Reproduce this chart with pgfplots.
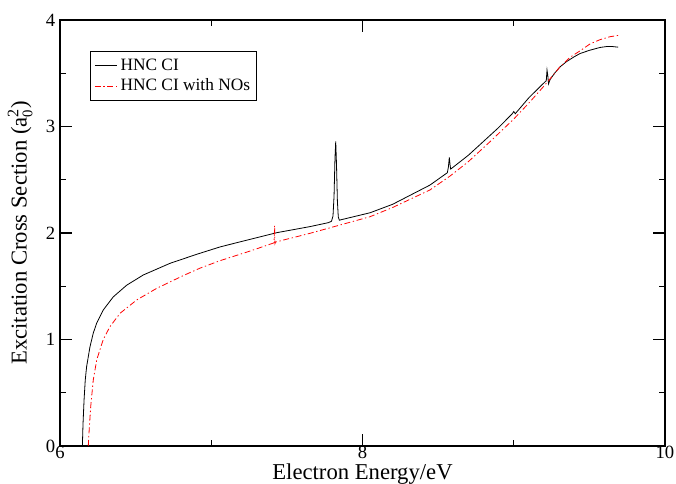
\documentclass[border=0pt]{standalone}
\usepackage{fontspec}
\setmainfont{Liberation Serif}
\usepackage{pgfplots}
\pgfplotsset{compat=1.18}
\begin{document}
\begin{tikzpicture}
\begin{axis}[
  scale only axis, width=453.75pt, height=319.5pt,
  xmin=6, xmax=10, ymin=0, ymax=4,
  xtick={6,8,10}, ytick={0,1,2,3,4},
  minor xtick={7,9}, minor ytick={0.5,1.5,2.5,3.5},
  tick align=inside, major tick length=9pt, minor tick length=4.5pt,
  axis line style={line width=1pt},
  every tick/.style={black, line width=0.8pt},
  tick label style={font=\fontsize{14}{16}\selectfont},
  xticklabel style={inner sep=0.5pt, yshift=0.5pt},
  /pgf/number format/assume math mode=true,
  xlabel={Electron Energy/eV},
  ylabel={Excitation Cross Section (a$_{\hbox{\fontsize{11}{11}\selectfont 0}}^{\hbox{\fontsize{12}{12}\selectfont 2}}$)},
  label style={font=\fontsize{17}{19}\selectfont},
  xlabel style={at={(axis description cs:0.5,-0.066)}, anchor=center, inner sep=0pt},
  ylabel style={at={(axis description cs:-0.066,0.5)}, anchor=center},
  legend style={at={(axis description cs:0.0496,0.927)}, anchor=north west,
    draw=black, line width=0.6pt, font=\fontsize{13}{15}\selectfont,
    inner xsep=3pt, inner ysep=3.5pt, row sep=1pt},
  legend cell align=left,
  legend image code/.code={\draw[#1] (0pt,0pt) -- (17pt,0pt);},
]
\addplot[black, line width=0.6pt] coordinates {
(6.148,0) (6.152,0.2) (6.159,0.43) (6.167,0.62) (6.176,0.745) (6.198,0.93)
(6.22,1.06) (6.243,1.155) (6.286,1.277) (6.352,1.40) (6.441,1.51) (6.551,1.606)
(6.727,1.715) (6.904,1.80) (7.06,1.87) (7.256,1.94) (7.433,2.003) (7.653,2.06)
(7.774,2.097) (7.795,2.11) (7.805,2.16) (7.812,2.35) (7.818,2.70) (7.823,2.86)
(7.828,2.65) (7.834,2.30) (7.840,2.15) (7.847,2.12) (7.86,2.125) (8.05,2.19)
(8.2,2.27) (8.446,2.45) (8.561,2.566) (8.568,2.62) (8.574,2.71) (8.579,2.64)
(8.583,2.60) (8.7,2.73) (8.81,2.873) (8.9,2.99) (8.99,3.12) (9.0,3.14)
(9.01,3.12) (9.1,3.27) (9.2,3.41) (9.215,3.43) (9.22,3.53) (9.225,3.48)
(9.23,3.40) (9.24,3.44) (9.27,3.50) (9.306,3.56) (9.35,3.61) (9.4,3.655)
(9.438,3.685) (9.5,3.715) (9.57,3.742) (9.62,3.752) (9.65,3.751) (9.69,3.745)
};
\addlegendentry{HNC CI}
\addplot[red, line width=0.6pt, dash pattern=on 4.5pt off 2pt on 1pt off 2pt] coordinates {
(6.187,0) (6.193,0.15) (6.203,0.37) (6.22,0.62) (6.243,0.81) (6.286,1.0)
(6.33,1.12) (6.397,1.246) (6.507,1.371) (6.639,1.48) (6.815,1.60) (6.926,1.67)
(7.058,1.74) (7.256,1.83) (7.41,1.905) (7.415,1.91) (7.419,2.07) (7.421,1.90)
(7.425,1.915) (7.653,1.997) (8.05,2.153) (8.2,2.24) (8.446,2.404) (8.579,2.535)
(8.7,2.67) (8.843,2.857) (9.0,3.07) (9.1,3.22) (9.2,3.38) (9.3,3.55)
(9.372,3.65) (9.438,3.71) (9.504,3.775) (9.57,3.815) (9.636,3.843) (9.69,3.855)
};
\addlegendentry{HNC CI with NOs}
\end{axis}
\pgfresetboundingbox
\path[use as bounding box] (-45pt,-28.5pt) rectangle (462pt,334.5pt);
\end{tikzpicture}
\end{document}
